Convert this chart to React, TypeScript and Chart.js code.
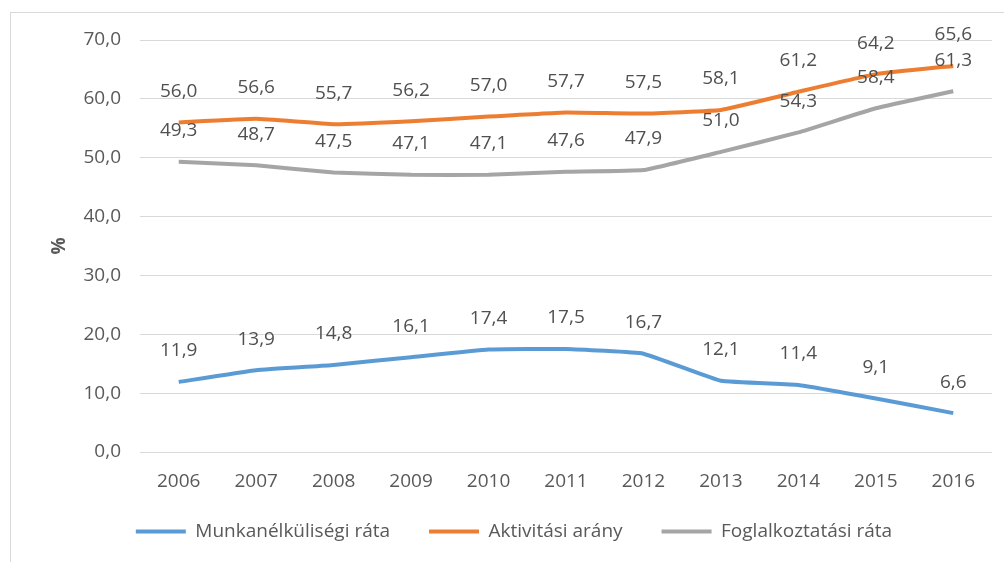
import React, { useEffect, useRef } from 'react';
import { Chart, registerables } from 'chart.js';

Chart.register(...registerables);

const years = ['2006', '2007', '2008', '2009', '2010', '2011', '2012', '2013', '2014', '2015', '2016'];
const unemployment = [11.9, 13.9, 14.8, 16.1, 17.4, 17.5, 16.7, 12.1, 11.4, 9.1, 6.6];
const activity = [56.0, 56.6, 55.7, 56.2, 57.0, 57.7, 57.5, 58.1, 61.2, 64.2, 65.6];
const employment = [49.3, 48.7, 47.5, 47.1, 47.1, 47.6, 47.9, 51.0, 54.3, 58.4, 61.3];
const seriesNames = ['Munkanélküliségi ráta', 'Aktivitási arány', 'Foglalkoztatási ráta'];
const seriesColors = ['#5b9bd5', '#ed7d31', '#a5a5a5'];
const yMin = 0;
const yMax = 70;
const yStep = 10;
const yTitle = '%';

const fmt = (v: number) => v.toFixed(1).replace('.', ',');

const valueLabels = {
  id: 'valueLabels',
  afterDatasetsDraw(chart: any) {
    const ctx = chart.ctx;
    ctx.save();
    ctx.font = '19px "Open Sans", sans-serif';
    ctx.fillStyle = '#505050';
    ctx.textAlign = 'center';
    ctx.textBaseline = 'middle';
    chart.data.datasets.forEach((ds: any, i: number) => {
      const meta = chart.getDatasetMeta(i);
      meta.data.forEach((pt: any, j: number) => {
        ctx.fillText(fmt(ds.data[j]), pt.x, pt.y - 31);
      });
    });
    ctx.restore();
  },
};

export default function App() {
  const ref = useRef<HTMLCanvasElement | null>(null);

  useEffect(() => {
    if (!ref.current) return;
    Chart.defaults.font.family = '"Open Sans", sans-serif';
    const data = [unemployment, activity, employment];
    const chart = new Chart(ref.current, {
      type: 'line',
      data: {
        labels: years,
        datasets: data.map((d, i) => ({
          label: seriesNames[i],
          data: d,
          borderColor: seriesColors[i],
          backgroundColor: seriesColors[i],
          borderWidth: 4,
          pointRadius: 0,
          tension: 0.1,
          fill: false,
        })),
      },
      options: {
        responsive: false,
        animation: false,
        devicePixelRatio: 1,
        layout: { padding: { left: 36, right: 12, top: 40, bottom: 11 } },
        plugins: {
          tooltip: { enabled: false },
          legend: {
            position: 'bottom',
            labels: {
              usePointStyle: true,
              pointStyle: 'line',
              pointStyleWidth: 50,
              padding: 39,
              color: '#595959',
              font: { size: 19 },
            },
          },
        },
        scales: {
          x: {
            offset: true,
            grid: { display: false, drawTicks: false },
            border: { display: false },
            ticks: { padding: 18, color: '#595959', font: { size: 19 } },
            afterFit: (s: any) => {
              s.height = 31;
              s._computeLabelArea = () => undefined;
            },
          },
          y: {
            min: yMin,
            max: yMax,
            ticks: {
              stepSize: yStep,
              padding: 19,
              color: '#595959',
              font: { size: 19 },
              callback: (v: any) => fmt(Number(v)),
            },
            grid: { color: '#d9d9d9', drawTicks: false, lineWidth: 1 },
            border: { display: false },
            title: {
              display: true,
              text: yTitle,
              color: '#595959',
              font: { size: 19, weight: 'bold' },
              padding: { top: 12, bottom: 0 },
            },
            afterFit: (s: any) => {
              s.width = 104;
            },
          },
        },
      },
      plugins: [valueLabels],
    } as any);
    return () => chart.destroy();
  }, []);

  return (
    <div style={{ position: 'fixed', left: 0, top: 0, width: 1004, height: 562, background: '#fff' }}>
      <div
        style={{
          position: 'absolute',
          left: 10,
          top: 12,
          right: 0,
          bottom: 0,
          borderTop: '1px solid #d9d9d9',
          borderLeft: '1px solid #d9d9d9',
        }}
      />
      <canvas ref={ref} width={1004} height={562} style={{ position: 'absolute', left: 0, top: 0 }} />
    </div>
  );
}
